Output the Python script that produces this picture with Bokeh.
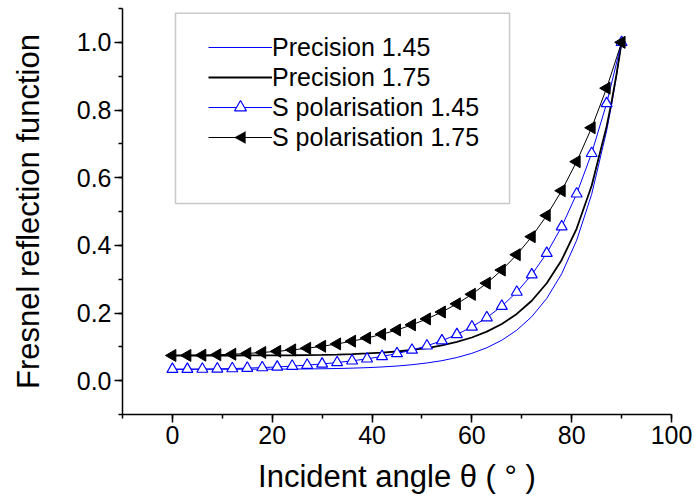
import math
from bokeh.plotting import figure
from bokeh.models import (Legend, LegendItem, BoxAnnotation, PolyAnnotation, SingleIntervalTicker,
                          PrintfTickFormatter, Range1d)
from bokeh.embed import file_html
from bokeh.resources import INLINE

# ---- data ----
angle_s = [0, 3, 6, 9, 12, 15, 18, 21, 24, 27, 30, 33, 36, 39, 42, 45, 48, 51, 54, 57,
           60, 63, 66, 69, 72, 75, 78, 81, 84, 87, 90]
s_145 = [0.0337, 0.0339, 0.0343, 0.0349, 0.0358, 0.0371, 0.0387, 0.0406, 0.0430, 0.0459,
         0.0494, 0.0536, 0.0586, 0.0645, 0.0717, 0.0802, 0.0905, 0.1030, 0.1181, 0.1365,
         0.1589, 0.1864, 0.2202, 0.2618, 0.3132, 0.3767, 0.4552, 0.5523, 0.6720, 0.8193, 1.0]
s_175 = [0.0744, 0.0746, 0.0753, 0.0765, 0.0782, 0.0804, 0.0833, 0.0867, 0.0909, 0.0959,
         0.1017, 0.1086, 0.1167, 0.1261, 0.1371, 0.1499, 0.1650, 0.1825, 0.2030, 0.2270,
         0.2552, 0.2881, 0.3269, 0.3723, 0.4256, 0.4882, 0.5615, 0.6474, 0.7476, 0.8644, 1.0]

angle_p = [0, 3, 6, 9, 12, 15, 18, 21, 24, 27, 30, 33, 36, 39, 42, 45, 48, 51, 54, 57,
           60, 63, 66, 69, 72, 75, 78, 81, 84, 87, 88, 89, 90]
p_145 = [0.0337, 0.0337, 0.0337, 0.0338, 0.0338, 0.0338, 0.0339, 0.0340, 0.0343, 0.0346,
         0.0352, 0.0359, 0.0370, 0.0385, 0.0405, 0.0433, 0.0471, 0.0523, 0.0591, 0.0684,
         0.0808, 0.0973, 0.1195, 0.1492, 0.1891, 0.2430, 0.3159, 0.4150, 0.5507, 0.7381,
         0.8157, 0.9026, 1.0]
p_175 = [0.0744, 0.0744, 0.0744, 0.0744, 0.0744, 0.0745, 0.0746, 0.0748, 0.0751, 0.0756,
         0.0762, 0.0772, 0.0785, 0.0804, 0.0829, 0.0862, 0.0907, 0.0965, 0.1043, 0.1144,
         0.1276, 0.1449, 0.1675, 0.1972, 0.2362, 0.2879, 0.3569, 0.4497, 0.5762, 0.7516,
         0.8248, 0.9071, 1.0]

labels = ["Precision 1.45", "Precision 1.75", "S polarisation 1.45", "S polarisation 1.75"]
x_title = "Incident angle \u03b8 ( \u00b0 )"
y_title = "Fresnel reflection function"

FONT = "Liberation Sans"

p = figure(width=694, height=499,
           x_range=Range1d(-10, 100), y_range=Range1d(-0.1, 1.1),
           output_backend="svg", toolbar_location=None,
           min_border_left=122, min_border_right=23, min_border_top=8, min_border_bottom=85)
p.outline_line_color = None
p.grid.visible = False
p.background_fill_color = "white"

p.xaxis.ticker = SingleIntervalTicker(interval=20, num_minor_ticks=2)
p.yaxis.ticker = SingleIntervalTicker(interval=0.2, num_minor_ticks=2)
p.yaxis.formatter = PrintfTickFormatter(format="%.1f")

for ax in (p.xaxis, p.yaxis):
    ax.axis_line_width = 1.5
    ax.axis_line_color = "black"
    ax.major_tick_line_width = 1.5
    ax.minor_tick_line_width = 1.5
    ax.major_tick_line_color = "black"
    ax.minor_tick_line_color = "black"
    ax.major_tick_out = 8
    ax.major_tick_in = 0
    ax.minor_tick_out = 4
    ax.minor_tick_in = 0
    ax.major_label_text_font = FONT
    ax.major_label_text_font_size = "25px"
    ax.major_label_text_color = "black"
    ax.axis_label_text_font = FONT
    ax.axis_label_text_font_size = "31px"
    ax.axis_label_text_font_style = "normal"
    ax.axis_label_text_color = "black"

p.xaxis.axis_label = x_title
p.yaxis.axis_label = y_title
p.xaxis.major_label_standoff = 3
p.yaxis.major_label_standoff = 3
p.xaxis.axis_label_standoff = 12
p.yaxis.axis_label_standoff = 28

# lines
l1 = p.line(angle_p, p_145, line_color="#0000ff", line_width=1)
l2 = p.line(angle_p, p_175, line_color="black", line_width=1.8)
l3 = p.line(angle_s, s_145, line_color="#0000ff", line_width=1)
l4 = p.line(angle_s, s_175, line_color="black", line_width=1)
m3 = p.scatter(angle_s, s_145, marker="triangle", size=11, line_color="#0000ff",
               fill_color="white", line_width=1.2)
m4 = p.scatter(angle_s, s_175, marker="triangle", angle=math.pi / 2, size=12,
               line_color="black", fill_color="black")

frame_box = BoxAnnotation(left=0.62, right=67.55, bottom=0.524, top=1.086,
                          fill_color=None, fill_alpha=0, line_color="#4d4d4d", line_width=1.5)
p.add_layout(frame_box)

legend = Legend(items=[LegendItem(label=labels[0], renderers=[l1]),
                       LegendItem(label=labels[1], renderers=[l2]),
                       LegendItem(label=labels[2], renderers=[l3, m3]),
                       LegendItem(label=labels[3], renderers=[l4])],
                location=(86, 262), border_line_color=None, background_fill_alpha=0,
                padding=0, margin=0, spacing=0, label_standoff=0,
                glyph_width=64, glyph_height=30, label_height=30,
                label_text_font=FONT, label_text_font_size="25px", label_text_color="black")
p.add_layout(legend)

# left-pointing legend marker for the last entry (legend glyphs are never rotated)
leg_marker = PolyAnnotation(xs=[234, 245, 245], ys=[137, 131, 143],
                            xs_units="canvas", ys_units="canvas",
                            fill_color="black", fill_alpha=1, line_color="black", line_width=1)
p.add_layout(leg_marker)

open("out.html", "w").write(file_html(p, INLINE))
